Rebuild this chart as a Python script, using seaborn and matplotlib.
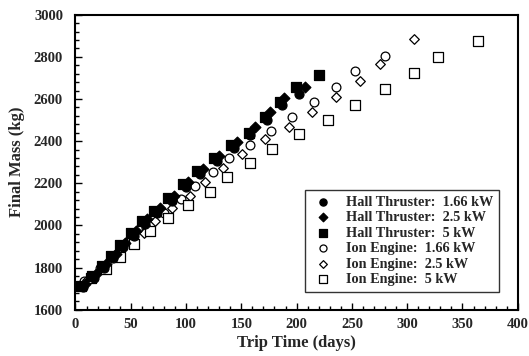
import matplotlib
matplotlib.use("Agg")
import matplotlib.pyplot as plt
from matplotlib.ticker import MultipleLocator
import seaborn as sns
import pandas as pd

# Trip time (days) and final mass (kg) for each propulsion option
hall_166_t = [7, 17, 26, 34, 43, 53, 63, 74, 87, 100, 113, 128, 143, 158, 173, 187, 202]
hall_166_m = [1706, 1752, 1798, 1845, 1896, 1950, 2008, 2058, 2118, 2183, 2243, 2305, 2368, 2428, 2498, 2572, 2622]

hall_25_t = [9, 19, 28, 37, 45, 55, 65, 76, 89, 102, 115, 130, 146, 162, 176, 189, 208]
hall_25_m = [1722, 1768, 1815, 1864, 1915, 1972, 2030, 2082, 2142, 2205, 2268, 2330, 2397, 2468, 2540, 2606, 2658]

hall_5_t = [5, 15, 24, 32, 40, 50, 60, 71, 84, 97, 110, 125, 141, 157, 171, 185, 199, 220]
hall_5_m = [1712, 1760, 1808, 1855, 1907, 1962, 2020, 2070, 2132, 2198, 2258, 2322, 2382, 2440, 2516, 2587, 2658, 2714]

ion_166_t = [8, 22, 36, 50, 64, 80, 95, 108, 124, 139, 158, 177, 196, 216, 236, 253, 280]
ion_166_m = [1738, 1800, 1862, 1925, 1990, 2058, 2124, 2189, 2252, 2318, 2383, 2448, 2513, 2584, 2655, 2734, 2804]

ion_25_t = [10, 24, 38, 51, 62, 72, 87, 104, 117, 133, 151, 171, 193, 214, 236, 257, 275, 306]
ion_25_m = [1740, 1800, 1858, 1915, 1965, 2021, 2081, 2140, 2207, 2273, 2339, 2409, 2469, 2537, 2608, 2685, 2765, 2883]

ion_5_t = [14, 28, 40, 53, 67, 84, 102, 122, 137, 158, 178, 202, 228, 253, 280, 306, 328, 364]
ion_5_m = [1750, 1795, 1852, 1910, 1973, 2034, 2098, 2159, 2231, 2295, 2363, 2432, 2500, 2573, 2646, 2723, 2801, 2874]

series_labels = [
    "Hall Thruster:  1.66 kW",
    "Hall Thruster:  2.5 kW",
    "Hall Thruster:  5 kW",
    "Ion Engine:  1.66 kW",
    "Ion Engine:  2.5 kW",
    "Ion Engine:  5 kW",
]
series_data = [
    (hall_166_t, hall_166_m),
    (hall_25_t, hall_25_m),
    (hall_5_t, hall_5_m),
    (ion_166_t, ion_166_m),
    (ion_25_t, ion_25_m),
    (ion_5_t, ion_5_m),
]

frames = []
for label, (t, m) in zip(series_labels, series_data):
    frames.append(pd.DataFrame({"Trip Time (days)": t, "Final Mass (kg)": m, "series": label}))
df = pd.concat(frames, ignore_index=True)

sns.set_style("white")
plt.rcParams["font.family"] = ["Liberation Serif", "DejaVu Serif"]
plt.rcParams["font.weight"] = "bold"

fig = plt.figure(figsize=(5.29, 3.56), dpi=100)
ax = fig.add_axes([0.1427, 0.130, 0.836, 0.8287])

# marker, face colour, size for each series
styles = {
    series_labels[0]: ("o", "black", 42),
    series_labels[1]: ("D", "black", 30),
    series_labels[2]: ("s", "black", 50),
    series_labels[3]: ("o", "white", 40),
    series_labels[4]: ("D", "white", 24),
    series_labels[5]: ("s", "white", 55),
}

for label in series_labels:
    marker, face, size = styles[label]
    sns.scatterplot(
        data=df[df["series"] == label],
        x="Trip Time (days)", y="Final Mass (kg)",
        marker=marker, s=size, color=face, edgecolor="black",
        linewidth=0.9, label=label, ax=ax, zorder=3 if face == "black" else 2,
    )

ax.set_xlim(0, 400)
ax.set_ylim(1600, 3000)
ax.xaxis.set_major_locator(MultipleLocator(50))
ax.xaxis.set_minor_locator(MultipleLocator(10))
ax.yaxis.set_major_locator(MultipleLocator(200))
ax.yaxis.set_minor_locator(MultipleLocator(40))
ax.tick_params(axis="both", which="both", direction="in", top=False, right=False,
               bottom=True, left=True, labelsize=10.5, width=1, color="black")
ax.tick_params(axis="y", which="major", pad=9)
ax.tick_params(axis="x", which="major", pad=6)
ax.tick_params(which="major", length=5)
ax.tick_params(which="minor", length=3)
for lab in ax.get_xticklabels() + ax.get_yticklabels():
    lab.set_fontweight("bold")

for sp in ax.spines.values():
    sp.set_visible(True)
    sp.set_color("black")
    sp.set_linewidth(1.5)

ax.set_xlabel("Trip Time (days)", fontsize=12, fontweight="bold", labelpad=3)
ax.set_ylabel("Final Mass (kg)", fontsize=12, fontweight="bold", labelpad=6)

leg = ax.legend(loc="lower right", bbox_to_anchor=(0.958, 0.061), frameon=True,
                fancybox=False, edgecolor="black", fontsize=10.3, handletextpad=0.8,
                borderpad=0.4, labelspacing=0.17, handlelength=1.7, borderaxespad=0,
                markerscale=0.8)
leg.get_frame().set_linewidth(1.0)
for txt in leg.get_texts():
    txt.set_fontweight("bold")

fig.savefig("out.png", dpi=100)
